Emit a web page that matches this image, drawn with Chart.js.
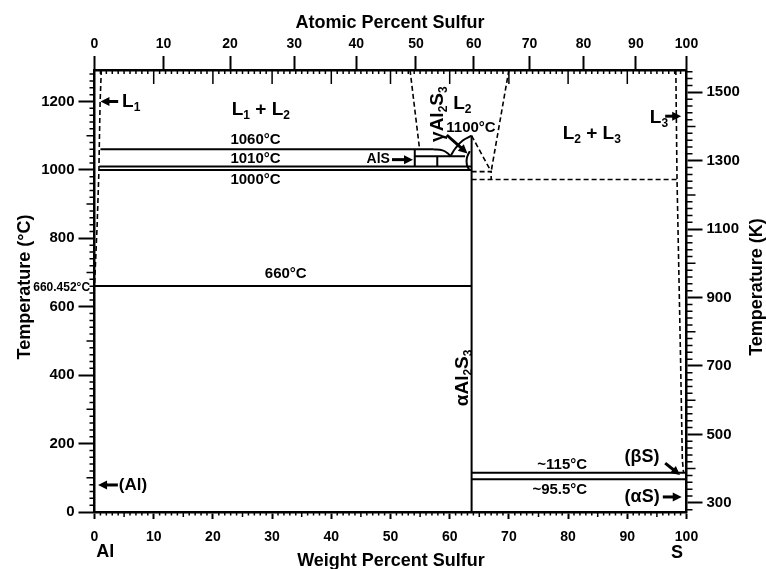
<!DOCTYPE html>
<html lang="en">
<head>
<meta charset="UTF-8">
<title>Al-S Phase Diagram</title>
<script src="https://cdn.jsdelivr.net/npm/chart.js"></script>
<style>
  body { margin: 0; background: #fff; }
  #wrap { width: 766px; height: 569px; }
</style>
</head>
<body>
<div id="wrap"><canvas id="phaseChart" width="766" height="569"></canvas></div>
<script>
// tick labels
const wtTicks = [0, 10, 20, 30, 40, 50, 60, 70, 80, 90, 100];
const atTicks = [0, 10, 20, 30, 40, 50, 60, 70, 80, 90, 100];
const degTicks = [0, 200, 400, 600, 800, 1000, 1200];
const kelvinTicks = [300, 500, 700, 900, 1100, 1300, 1500];

// solid boundaries  [wt% S, °C]
const iso1060 = [[1.0, 1060], [57.2, 1060]];
const alsDome = [[57.2, 1060], [58.8, 1057], [59.7, 1048], [60.1, 1040]];
const gammaLiquidus = [[60.1, 1040], [61.0, 1064], [62.2, 1086], [63.7, 1100]];
const gammaSolvus = [[63.4, 1055], [62.9, 1035], [62.9, 1015], [63.3, 1000]];
const iso1040 = [[54.1, 1040], [62.6, 1040]];
const alsLine = [[54.1, 1010], [54.1, 1060]];
const alsInner = [[57.9, 1010], [57.9, 1040]];
const iso1010 = [[0.8, 1010], [63.7, 1010]];
const iso1000 = [[0.75, 1000], [63.7, 1000]];
const iso660 = [[0, 660.452], [63.7, 660.452]];
const al2s3Line = [[63.7, 0], [63.7, 1100]];
const iso115 = [[63.7, 115], [100, 115]];
const iso95 = [[63.7, 95.5], [100, 95.5]];

// dashed boundaries
const l1Boundary = [[1.15, 1292], [0.95, 1200], [0.8, 1060], [0.75, 1000], [0.45, 840], [0, 660.452]];
const l2Left = [[53.3, 1292], [54.9, 1062]];
const l2Right = [[70.0, 1292], [67.0, 995]];
const al2s3Liquidus = [[63.7, 1100], [67.0, 995]];
const mono995 = [[63.7, 995], [67.0, 995], [67.0, 972]];
const mono972 = [[63.7, 972], [98.4, 972]];
const l3Boundary = [[98.2, 1292], [98.4, 972], [99.0, 444], [99.3, 152], [99.5, 115]];

const FONT = 'Arial, "Liberation Sans", Helvetica, sans-serif';

function atToWt(a) {
    const s = a * 32.06, al = (100 - a) * 26.98;
    return 100 * s / (s + al);
}

const pts = arr => arr.map(([x, y]) => ({ x, y }));

function solid(data, tension) {
    return { data: pts(data), borderColor: '#000', borderWidth: 2, showLine: true,
             pointRadius: 0, tension: tension || 0, fill: false };
}
function dashed(data) {
    return { data: pts(data), borderColor: '#000', borderWidth: 1.6, borderDash: [5, 3],
             showLine: true, pointRadius: 0, tension: 0, fill: false };
}

// labels drawn on the diagram, placed in data units
const notes = [
    { p: [['L'], ['1', 1]], at: [4.65, 1200], size: 19, align: 'left' },
    { p: [['L'], ['1', 1], [' + '], ['L'], ['2', 1]], at: [28.1, 1175], size: 19 },
    { p: [['1060°C']], at: [27.2, 1087], size: 15 },
    { p: [['1010°C']], at: [27.2, 1032], size: 15 },
    { p: [['1000°C']], at: [27.2, 970], size: 15 },
    { p: [['660°C']], at: [32.3, 696], size: 15 },
    { p: [['660.452°C']], at: [-0.75, 655], size: 12, align: 'right' },
    { p: [['γAl'], ['2', 1], ['S'], ['3', 1]], at: [57.9, 1163], size: 19, rot: true },
    { p: [['L'], ['2', 1]], at: [60.6, 1193], size: 19, align: 'left' },
    { p: [['1100°C']], at: [63.6, 1124], size: 15 },
    { p: [['AlS']], at: [49.9, 1030], size: 14, align: 'right' },
    { p: [['L'], ['2', 1], [' + '], ['L'], ['3', 1]], at: [84.0, 1105], size: 19 },
    { p: [['L'], ['3', 1]], at: [93.8, 1152], size: 19, align: 'left' },
    { p: [['αAl'], ['2', 1], ['S'], ['3', 1]], at: [62.2, 392], size: 19, rot: true },
    { p: [['~115°C']], at: [79.0, 137], size: 15 },
    { p: [['~95.5°C']], at: [78.6, 64], size: 15 },
    { p: [['(βS)']], at: [92.5, 161], size: 18 },
    { p: [['(αS)']], at: [92.5, 44], size: 18 },
    { p: [['(Al)']], at: [4.1, 79], size: 17, align: 'left' },
    { p: [['Al']], at: [1.8, -117], size: 18 },
    { p: [['S']], at: [98.4, -120], size: 18 }
];

const pointers = [
    { from: [4.0, 1200], to: [1.0, 1200] },
    { from: [59.5, 1102], to: [63.0, 1048] },
    { from: [50.25, 1030], to: [53.8, 1030] },
    { from: [96.4, 1157], to: [99.1, 1157] },
    { from: [96.4, 143], to: [98.9, 108] },
    { from: [96.0, 44], to: [99.2, 44] },
    { from: [3.95, 79], to: [0.6, 79] }
];

function drawRich(ctx, parts, x, y, size, align, rot) {
    const subSize = Math.round(size * 0.62);
    let total = 0;
    parts.forEach(([t, sub]) => {
        ctx.font = 'bold ' + (sub ? subSize : size) + 'px ' + FONT;
        total += ctx.measureText(t).width;
    });
    ctx.save();
    ctx.translate(x, y);
    if (rot) ctx.rotate(-Math.PI / 2);
    let cx = align === 'left' ? 0 : align === 'right' ? -total : -total / 2;
    ctx.textBaseline = 'middle';
    ctx.textAlign = 'left';
    parts.forEach(([t, sub]) => {
        ctx.font = 'bold ' + (sub ? subSize : size) + 'px ' + FONT;
        ctx.fillText(t, cx, sub ? size * 0.32 : 0);
        cx += ctx.measureText(t).width;
    });
    ctx.restore();
}

function drawArrow(ctx, x1, y1, x2, y2) {
    const ang = Math.atan2(y2 - y1, x2 - x1);
    const head = 9, half = 4.5;
    ctx.beginPath();
    ctx.moveTo(x1, y1);
    ctx.lineTo(x2 - Math.cos(ang) * head * 0.8, y2 - Math.sin(ang) * head * 0.8);
    ctx.lineWidth = 3;
    ctx.stroke();
    ctx.beginPath();
    ctx.moveTo(x2, y2);
    ctx.lineTo(x2 - head * Math.cos(ang) + half * Math.sin(ang), y2 - head * Math.sin(ang) - half * Math.cos(ang));
    ctx.lineTo(x2 - head * Math.cos(ang) - half * Math.sin(ang), y2 - head * Math.sin(ang) + half * Math.cos(ang));
    ctx.closePath();
    ctx.fill();
}

const overlay = {
    id: 'overlay',
    afterDraw(chart) {
        const { ctx, chartArea: a, scales: { x, y, y2 } } = chart;
        ctx.save();
        ctx.strokeStyle = '#000';
        ctx.fillStyle = '#000';

        // minor ticks
        ctx.lineWidth = 1.5;
        ctx.beginPath();
        for (let w = 1; w < 100; w++) {
            const px = x.getPixelForValue(w);
            if (w % 10 !== 0) {
                const len = w % 5 === 0 ? 5 : 3.5;
                ctx.moveTo(px, a.bottom); ctx.lineTo(px, a.bottom + len);
            }
            const tl = w % 10 === 0 ? 14 : 4;
            ctx.moveTo(px, a.top); ctx.lineTo(px, a.top + tl);
        }
        for (let t = 20; t < 1292; t += 20) {
            if (t % 200 === 0) continue;
            const py = y.getPixelForValue(t);
            const len = t % 100 === 0 ? 8 : 5;
            ctx.moveTo(a.left - len, py); ctx.lineTo(a.left, py);
        }
        for (let k = 280; k < 1565; k += 20) {
            if (kelvinTicks.includes(k)) continue;
            const py = y2.getPixelForValue(k);
            const len = k % 100 === 0 ? 9 : 6;
            ctx.moveTo(a.right, py); ctx.lineTo(a.right + len, py);
        }
        ctx.stroke();

        // labels and arrows
        notes.forEach(n => {
            drawRich(ctx, n.p, x.getPixelForValue(n.at[0]), y.getPixelForValue(n.at[1]), n.size, n.align, n.rot);
        });
        pointers.forEach(p => {
            drawArrow(ctx, x.getPixelForValue(p.from[0]), y.getPixelForValue(p.from[1]),
                      x.getPixelForValue(p.to[0]), y.getPixelForValue(p.to[1]));
        });

        // axis titles
        drawRich(ctx, [['Atomic Percent Sulfur']], 390, 23, 18);
        drawRich(ctx, [['Weight Percent Sulfur']], 391, 561, 18);
        drawRich(ctx, [['Temperature (°C)']], 25, 287, 18, 'center', true);
        drawRich(ctx, [['Temperature (K)']], 757, 287, 18, 'center', true);
        ctx.restore();
    }
};

const tickFont = size => ({ family: FONT, size: size, weight: 'bold' });
const axisBase = (min, max) => ({
    type: 'linear', min: min, max: max,
    border: { display: true, color: '#000', width: 2.5 },
    grid: { drawOnChartArea: false, color: '#000', tickColor: '#000', tickWidth: 2 }
});

const ctx = document.getElementById('phaseChart').getContext('2d');
new Chart(ctx, {
    type: 'scatter',
    data: {
        datasets: [
            solid(iso1060), solid(alsDome, 0.4), solid(gammaLiquidus, 0.4), solid(gammaSolvus, 0.4),
            solid(iso1040), solid(alsLine), solid(alsInner), solid(iso1010), solid(iso1000),
            solid(iso660), solid(al2s3Line), solid(iso115), solid(iso95),
            dashed(l1Boundary), dashed(l2Left), dashed(l2Right), dashed(al2s3Liquidus),
            dashed(mono995), dashed(mono972), dashed(l3Boundary)
        ]
    },
    options: {
        responsive: false,
        animation: false,
        layout: { padding: 0 },
        plugins: { legend: { display: false }, tooltip: { enabled: false } },
        scales: {
            x: Object.assign(axisBase(0, 100), {
                position: 'bottom',
                afterBuildTicks: s => { s.ticks = wtTicks.map(v => ({ value: v })); },
                ticks: { font: tickFont(14), color: '#000', padding: 10, maxRotation: 0, autoSkip: false,
                         callback: v => String(v) },
                afterFit: s => { s.height = 57; }
            }),
            xa: Object.assign(axisBase(0, 100), {
                position: 'top',
                afterBuildTicks: s => { s.ticks = atTicks.map(a => ({ value: atToWt(a) })); },
                ticks: { font: tickFont(14), color: '#000', padding: 3, maxRotation: 0, autoSkip: false,
                         callback: (v, i) => String(atTicks[i]) },
                afterFit: s => { s.height = 70; }
            }),
            y: Object.assign(axisBase(0, 1292), {
                position: 'left',
                afterBuildTicks: s => { s.ticks = degTicks.map(v => ({ value: v })); },
                ticks: { font: tickFont(15), color: '#000', padding: 4, callback: v => String(v) },
                afterFit: s => { s.width = 94.5; }
            }),
            y2: Object.assign(axisBase(273.15, 1565.15), {
                position: 'right',
                afterBuildTicks: s => { s.ticks = kelvinTicks.map(v => ({ value: v })); },
                ticks: { font: tickFont(15), color: '#000', padding: 4, callback: v => String(v) },
                afterFit: s => { s.width = 79.5; }
            })
        }
    },
    plugins: [overlay]
});
// grid tick lengths
const ch = Chart.getChart('phaseChart');
ch.options.scales.x.grid.tickLength = 7;
ch.options.scales.xa.grid.tickLength = 14;
ch.options.scales.y.grid.tickLength = 16;
ch.options.scales.y2.grid.tickLength = 16;
ch.update();
</script>
</body>
</html>
